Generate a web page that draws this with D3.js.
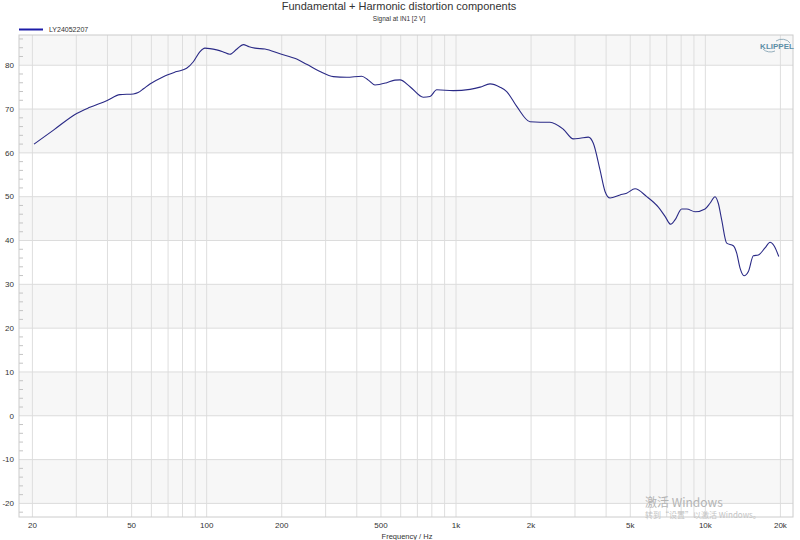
<!DOCTYPE html>
<html lang="en">
<head>
    <meta charset="UTF-8">
    <title>Fundamental + Harmonic distortion components</title>
    <script src="https://d3js.org/d3.v7.min.js"></script>
    <style>
        body { margin: 0; background: #fff; }
        text { font-family: "Liberation Sans", Arial, sans-serif; fill: #333; }
    </style>
</head>
<body>
<svg width="800" height="540"></svg>

<script>
    // curve: frequency (Hz) and level (dB)
    const freq = [20.3, 24.3, 30.1, 34, 39.7, 44.9, 50.8, 53.1, 56, 59.2, 67, 75.8, 83.1, 88.4, 94, 98.4,
        103, 109.7, 116, 124, 131.9, 140.2, 148, 156.2, 171.3, 196.8, 229.6, 251.8, 284.8, 322, 364.3,
        418.5, 445, 473, 527, 569, 596, 654, 739, 786.5, 836.9, 975, 1138, 1249, 1369, 1502, 1597,
        1752, 1981, 2173, 2382, 2694, 2955, 3143, 3394, 3554, 3781, 3960, 4147, 4548, 4837, 5224,
        5821, 6480, 6893, 7263, 7556, 8039, 8421, 9095, 9973, 10440, 10940, 11270, 11630, 12180,
        12950, 13360, 13780, 14300, 14880, 15580, 16320, 17350, 18180, 18860, 19700];
    const level = [62.0, 65.2, 69.0, 70.4, 71.9, 73.3, 73.45, 73.75, 74.7, 75.7, 77.4, 78.55, 79.3, 80.8, 83.1, 83.9,
        83.8, 83.5, 83.1, 82.5, 83.65, 84.7, 84.2, 83.9, 83.7, 82.6, 81.4, 80.2, 78.55, 77.4, 77.25,
        77.5, 76.6, 75.5, 76.0, 76.6, 76.65, 75.1, 72.7, 72.85, 74.4, 74.2, 74.5, 75.0, 75.75, 75.0, 74.0,
        70.6, 67.1, 67.0, 67.0, 65.4, 63.2, 63.35, 63.6, 62.2, 56.1, 51.2, 49.7, 50.4, 50.8, 51.8,
        50.0, 47.6, 45.5, 43.7, 44.7, 47.2, 47.2, 46.55, 47.2, 48.5, 50.0, 48.5, 44.7, 39.4,
        38.8, 37.1, 33.7, 31.95, 32.9, 36.5, 36.7, 38.3, 39.6, 38.8, 36.35];

    const seriesName = "LY24052207";
    const yTicks = [-20, -10, 0, 10, 20, 30, 40, 50, 60, 70, 80];
    const xTicks = [20, 50, 100, 200, 500, 1000, 2000, 5000, 10000, 20000];
    const xTickLabels = ["20", "50", "100", "200", "500", "1k", "2k", "5k", "10k", "20k"];

    let svg = d3.select("svg");

    const pLeft = 19, pRight = 793, pTop = 35, pBottom = 517;

    let x = d3.scaleLog().domain([17.67, 22470]).range([pLeft, pRight]);
    let y = d3.scaleLinear().domain([-23.1, 86.9]).range([pBottom, pTop]);

    // alternating bands
    const bands = [[80, 86.9], [60, 70], [40, 50], [20, 30], [0, 10], [-20, -10]];
    svg.append("g").selectAll("rect")
        .data(bands)
        .enter()
        .append("rect")
        .attr("x", pLeft)
        .attr("width", pRight - pLeft)
        .attr("y", d => y(d[1]))
        .attr("height", d => y(d[0]) - y(d[1]))
        .attr("fill", "#f7f7f7");

    // vertical grid: 1-2-3..9 per decade
    let gridF = [];
    [10, 100, 1000, 10000].forEach(function (dec) {
        for (let k = 1; k < 10; k++) {
            let f = dec * k;
            if (f >= 20 && f <= 20000) gridF.push(f);
        }
    });
    svg.append("g").selectAll("line")
        .data(gridF)
        .enter()
        .append("line")
        .attr("x1", d => x(d)).attr("x2", d => x(d))
        .attr("y1", pTop).attr("y2", pBottom)
        .attr("stroke", "#dedede")
        .attr("stroke-width", 1);

    // horizontal grid
    svg.append("g").selectAll("line")
        .data(yTicks)
        .enter()
        .append("line")
        .attr("x1", pLeft).attr("x2", pRight)
        .attr("y1", d => y(d)).attr("y2", d => y(d))
        .attr("stroke", "#dcdcdc")
        .attr("stroke-width", 1);

    // minor y ticks every 2 dB
    svg.append("g").selectAll("line")
        .data(d3.range(-22, 87, 2).filter(v => v % 10 !== 0))
        .enter()
        .append("line")
        .attr("x1", pLeft).attr("x2", pLeft + 4)
        .attr("y1", d => y(d)).attr("y2", d => y(d))
        .attr("stroke", "#c4c4c4");

    // frame
    svg.append("rect")
        .attr("x", pLeft).attr("y", pTop)
        .attr("width", pRight - pLeft).attr("height", pBottom - pTop)
        .attr("fill", "none")
        .attr("stroke", "#cccccc");

    // y labels
    svg.append("g").selectAll("text")
        .data(yTicks)
        .enter()
        .append("text")
        .attr("x", 14)
        .attr("y", d => y(d))
        .attr("dy", "0.35em")
        .attr("text-anchor", "end")
        .attr("font-size", 8)
        .text(d => d);

    // x labels
    svg.append("g").selectAll("text")
        .data(xTicks)
        .enter()
        .append("text")
        .attr("x", d => x(d))
        .attr("y", 528)
        .attr("text-anchor", "middle")
        .attr("font-size", 8)
        .text((d, i) => xTickLabels[i]);

    svg.append("text")
        .attr("x", 407).attr("y", 539)
        .attr("text-anchor", "middle")
        .attr("font-size", 7.5)
        .text("Frequency / Hz");

    // titles
    svg.append("text")
        .attr("x", 399).attr("y", 10)
        .attr("text-anchor", "middle")
        .attr("font-size", 11)
        .text("Fundamental + Harmonic distortion components");
    svg.append("text")
        .attr("x", 399).attr("y", 21)
        .attr("text-anchor", "middle")
        .attr("font-size", 6.5)
        .text("Signal at IN1 [2 V]");

    // legend
    svg.append("line")
        .attr("x1", 19).attr("x2", 43)
        .attr("y1", 29.5).attr("y2", 29.5)
        .attr("stroke", "#1c1ca8")
        .attr("stroke-width", 2);
    svg.append("text")
        .attr("x", 49).attr("y", 29.5)
        .attr("dy", "0.35em")
        .attr("font-size", 7)
        .text(seriesName);

    // logo
    let logo = svg.append("g").attr("transform", "translate(777,46)");
    logo.append("text")
        .attr("text-anchor", "middle")
        .attr("dy", "0.35em")
        .attr("font-size", 8)
        .attr("font-weight", "bold")
        .style("fill", "#5b8ea6")
        .text("KLIPPEL");
    logo.append("path")
        .attr("d", "M -1,-5 A 9,7 0 0 1 13,-3")
        .attr("fill", "none").attr("stroke", "#7a9aac").attr("stroke-width", 0.8);
    logo.append("path")
        .attr("d", "M -14,3 A 9,7 0 0 0 -2,5")
        .attr("fill", "none").attr("stroke", "#7a9aac").attr("stroke-width", 0.8);

    // the curve
    const pts = freq.map((f, i) => [f, level[i]]);
    svg.append("path")
        .datum(pts)
        .attr("d", d3.line()
            .x(d => x(d[0]))
            .y(d => y(d[1]))
            .curve(d3.curveMonotoneX))
        .attr("fill", "none")
        .attr("stroke", "#2a2a86")
        .attr("stroke-width", 1.1)
        .attr("stroke-linejoin", "round");

    // os watermark seen in the screenshot
    svg.append("text")
        .attr("x", 645).attr("y", 507)
        .attr("font-size", 12)
        .style("font-family", "'Noto Sans CJK SC', sans-serif")
        .style("fill", "#b4b4b4")
        .text("激活 Windows");
    svg.append("text")
        .attr("x", 645).attr("y", 518)
        .attr("font-size", 8)
        .style("font-family", "'Noto Sans CJK SC', sans-serif")
        .style("fill", "#c4c4c4")
        .text("转到“设置”以激活 Windows。");
</script>
</body>
</html>
